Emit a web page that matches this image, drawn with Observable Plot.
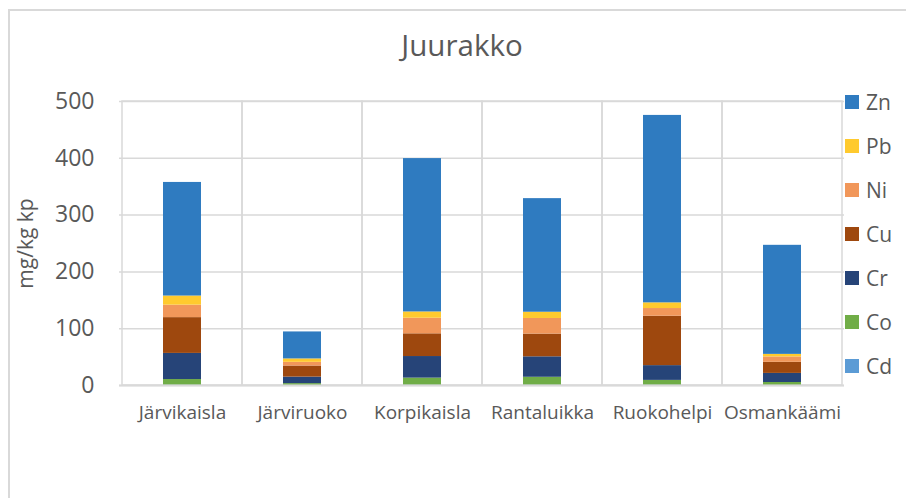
<!DOCTYPE html>
<html><head><meta charset="utf-8">
<script src="https://cdn.jsdelivr.net/npm/d3@7"></script>
<script src="https://cdn.jsdelivr.net/npm/@observablehq/plot@0.6"></script>
<style>
body{margin:0;background:#fff;font-family:"Open Sans",sans-serif;}
#wrap{position:relative;width:906px;height:498px;overflow:hidden;background:#fff;}
#frame{position:absolute;left:8px;top:9px;width:1000px;height:1000px;border-left:2px solid #d9d9d9;border-top:2px solid #d9d9d9;}
#title{position:absolute;left:0;width:924px;top:30px;text-align:center;font-size:29.5px;line-height:29.5px;color:#595959;}
#chart{position:absolute;left:0;top:0;}
#legend{position:absolute;left:845px;top:80px;}
.item{display:flex;align-items:center;height:44px;font-size:21px;color:#595959;}
.sw{width:14px;height:14px;margin-right:7px;}
</style></head>
<body>
<div id="wrap"><div id="frame"></div><div id="chart"></div><div id="title">Juurakko</div><div id="legend"></div></div>
<script>
const categories = ["Järvikaisla","Järviruoko","Korpikaisla","Rantaluikka","Ruokohelpi","Osmankäämi"];
const metals = ["Cd","Co","Cr","Cu","Ni","Pb","Zn"];
const colors = ["#5B9BD5","#70AD47","#264478","#9E480E","#F1975A","#FFCA2E","#2F7BC0"];
const Cd = [0.5, 0.3, 0.5, 0.5, 0.5, 0.3];
const Co = [10, 3, 12.5, 14, 8.5, 5];
const Cr = [46, 11.5, 38, 36, 26, 16];
const Cu = [63, 19.5, 40, 40, 87, 19.5];
const Ni = [22, 6.5, 27.5, 27.5, 13.5, 9.5];
const Pb = [16, 6, 11, 11, 10, 4.5];
const Zn = [200, 47.5, 270, 200, 330, 192];
const yTicks = [0, 100, 200, 300, 400, 500];

const series = {Cd, Co, Cr, Cu, Ni, Pb, Zn};
const data = metals.flatMap(m => categories.map((c, j) => ({cat: c, metal: m, value: series[m][j]})));

const chart = Plot.plot({
  width: 906, height: 498,
  marginLeft: 119, marginRight: 62, marginTop: 101, marginBottom: 113,
  style: {fontFamily: "Open Sans", fontSize: "20px", color: "#595959", background: "transparent"},
  x: {domain: categories, padding: 0, label: null},
  y: {domain: [0, 500], label: null},
  color: {domain: metals, range: colors},
  marks: [
    Plot.gridY(yTicks, {stroke: "#d9d9d9", strokeOpacity: 1, strokeWidth: 1.5}),
    Plot.barY(categories, {x: d => d, y1: () => 0, y2: () => 500, fill: "none", stroke: "#d9d9d9", strokeWidth: 1.5}),
    Plot.barY(data, Plot.stackY({order: metals}, {x: "cat", y: "value", fill: "metal", insetLeft: 41, insetRight: 41})),
    Plot.ruleY([0], {stroke: "#d9d9d9", strokeWidth: 2}),
    Plot.axisY(yTicks, {tickSize: 0, tickPadding: 25, fontSize: 23, label: null}),
    Plot.axisY([], {tickSize: 0, fontSize: 21, label: "mg/kg kp", labelAnchor: "center", labelArrow: "none", labelOffset: 101}),
    Plot.axisX({tickSize: 0, tickPadding: 20, fontSize: 19, label: null})
  ]
});
document.getElementById("chart").appendChild(chart);

const legend = document.getElementById("legend");
[...metals].reverse().forEach(m => {
  const it = document.createElement("div");
  it.className = "item";
  const sw = document.createElement("div");
  sw.className = "sw";
  sw.style.background = colors[metals.indexOf(m)];
  it.appendChild(sw);
  it.appendChild(document.createTextNode(m));
  legend.appendChild(it);
});
</script>
</body></html>
